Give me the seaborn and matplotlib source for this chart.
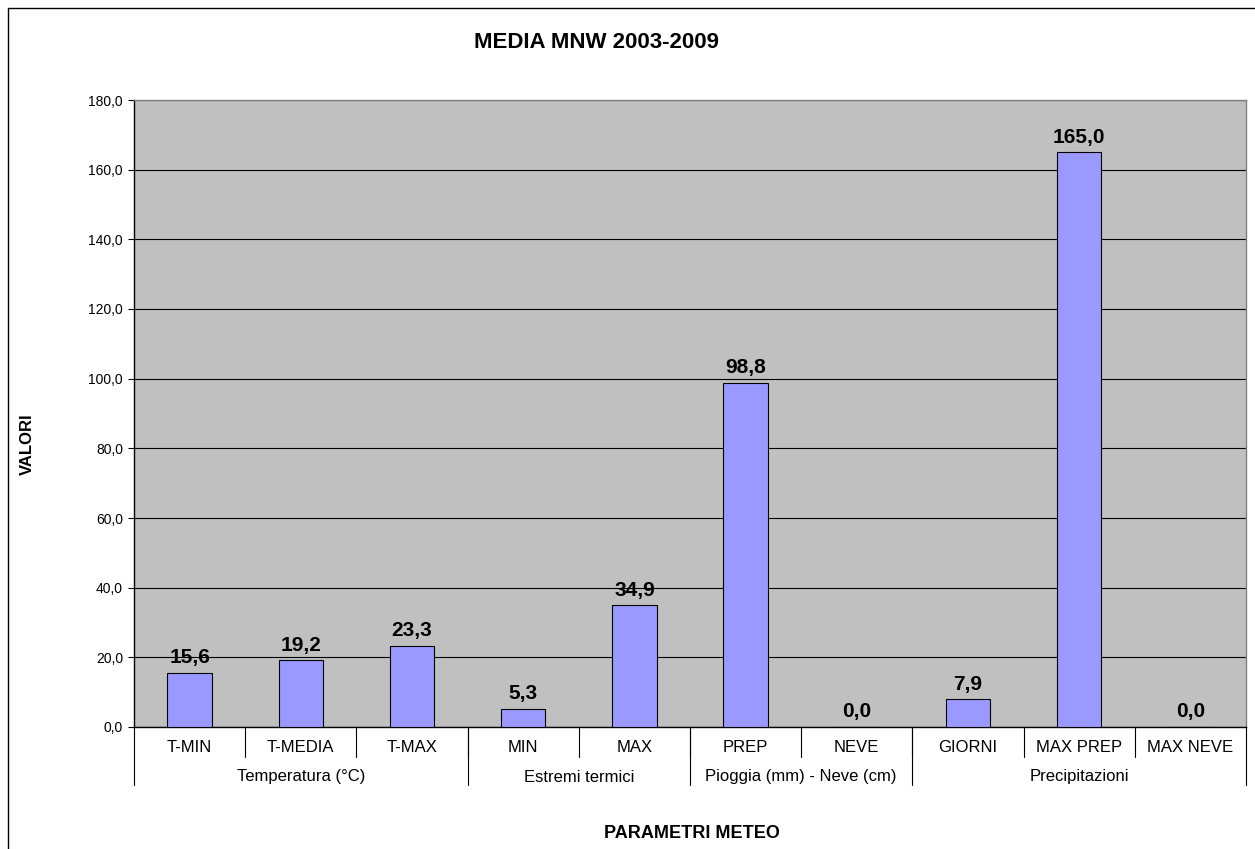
import matplotlib
matplotlib.use("Agg")
import matplotlib.pyplot as plt
import seaborn as sns
import pandas as pd
from matplotlib.ticker import FuncFormatter, MultipleLocator
from matplotlib.patches import Rectangle

# Data
categories = ["T-MIN", "T-MEDIA", "T-MAX", "MIN", "MAX", "PREP", "NEVE",
              "GIORNI", "MAX PREP", "MAX NEVE"]
values = [15.6, 19.2, 23.3, 5.3, 34.9, 98.8, 0.0, 7.9, 165.0, 0.0]
groups = ["Temperatura (°C)", "Estremi termici", "Pioggia (mm) - Neve (cm)",
          "Precipitazioni"]
group_sizes = [3, 2, 2, 3]

W, H = 1255, 849

sns.set_theme(style="white")
plt.rcParams["font.family"] = ["Liberation Sans", "DejaVu Sans"]
plt.rcParams["text.color"] = "black"
plt.rcParams["ytick.color"] = "black"

df = pd.DataFrame({"Parametro": categories, "Valore": values})

fig = plt.figure(figsize=(W / 100, H / 100), dpi=100)
ax = fig.add_axes([134 / W, 1 - 727 / H, 1112 / W, 627 / H])
ax.set_facecolor("#C0C0C0")

sns.barplot(data=df, x="Parametro", y="Valore", color="#9999FF", width=0.4,
            saturation=1, edgecolor="black", linewidth=0.8, ax=ax, zorder=3)

ax.set_ylim(0, 180)
ax.set_xlim(-0.5, len(categories) - 0.5)
ax.yaxis.set_major_locator(MultipleLocator(20))
ax.yaxis.set_major_formatter(FuncFormatter(lambda v, p: f"{v:.1f}".replace(".", ",")))
ax.grid(axis="y", color="black", linewidth=0.8, zorder=0)
ax.set_axisbelow(True)
ax.tick_params(axis="y", which="major", direction="out", length=4, width=0.8,
               color="black", labelsize=10, pad=4, left=True)
ax.tick_params(axis="x", bottom=False, labelbottom=False)
for s in ax.spines.values():
    s.set_color("#808080")
    s.set_linewidth(1.0)
ax.spines["left"].set_color("black")
ax.spines["bottom"].set_color("black")

# value labels
ax.bar_label(ax.containers[0],
             labels=[f"{v:.1f}".replace(".", ",") for v in values],
             padding=4, fontsize=15, fontweight="bold", color="black")

ax.set_xlabel("")
ax.set_ylabel("")

# two-level category axis
trans = ax.get_xaxis_transform()
row1_bottom = -(757 - 727) / 627
row2_bottom = -(785 - 727) / 627
for i, c in enumerate(categories):
    ax.text(i, -(748 - 727) / 627, c, transform=trans, ha="center",
            va="center", fontsize=12, color="black")
for i in range(1, len(categories)):
    ax.plot([i - 0.5, i - 0.5], [0, row1_bottom], transform=trans,
            color="black", linewidth=0.8, clip_on=False)
start = 0
bounds = [-0.5]
for g, n in zip(groups, group_sizes):
    mid = start + (n - 1) / 2
    ax.text(mid, -(777 - 727) / 627, g, transform=trans, ha="center",
            va="center", fontsize=12, color="black")
    start += n
    bounds.append(start - 0.5)
for b in bounds:
    ax.plot([b, b], [0, row2_bottom], transform=trans, color="black",
            linewidth=0.8, clip_on=False)

fig.text(596 / W, 1 - 43 / H, "MEDIA MNW 2003-2009", ha="center",
         va="center", fontsize=16, fontweight="bold")
fig.text(27 / W, 1 - 444 / H, "VALORI", ha="center", va="center",
         rotation=90, fontsize=12, fontweight="bold")
fig.text(692 / W, 1 - 834 / H, "PARAMETRI METEO", ha="center", va="center",
         fontsize=13, fontweight="bold")

# outer chart border (only left and top visible in the reference)
fig.patches.append(Rectangle((8 / W, -0.1), 1.2, 1.1 - 8 / H,
                             transform=fig.transFigure, fill=False,
                             edgecolor="black", linewidth=1.0))

fig.savefig("out.png", dpi=100)
